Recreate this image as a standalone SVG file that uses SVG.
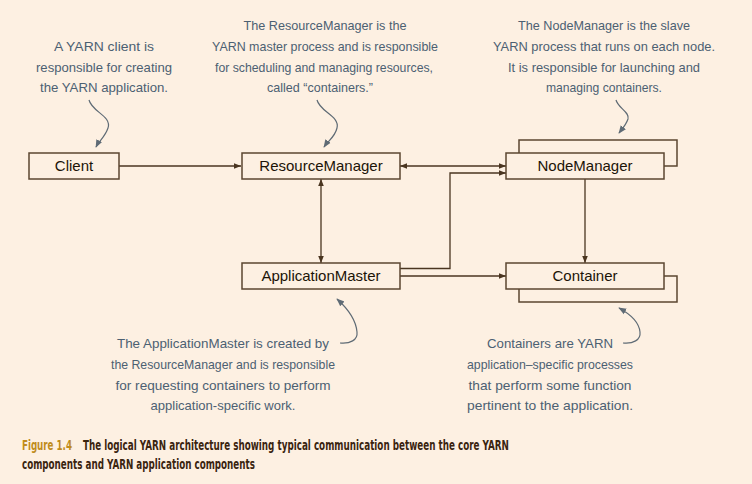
<svg xmlns="http://www.w3.org/2000/svg" width="752" height="484" viewBox="0 0 752 484">
<style>
.box{fill:#fdf0e2;stroke:#5b4631;stroke-width:1.5}
.back{fill:none;stroke:#5b4631;stroke-width:1.5}
.lbl{font-family:"Liberation Sans",Arial,sans-serif;font-size:15px;fill:#1c1408;text-anchor:middle}
.con{fill:none;stroke:#4a3520;stroke-width:1.3}
.note{font-family:"Liberation Sans",Arial,sans-serif;font-size:13px;fill:#4c6072;text-anchor:middle}
.ptr{fill:none;stroke:#5f6b75;stroke-width:1.2}
.cap{font-family:"DejaVu Sans Condensed","Liberation Sans",sans-serif;font-weight:bold;font-size:14px;fill:#3a2410}
</style>
<defs>
<marker id="ah" viewBox="0 0 10 10" refX="10" refY="5" markerWidth="7" markerHeight="7" markerUnits="userSpaceOnUse" orient="auto-start-reverse">
<path d="M0,1 L10,5 L0,9 z" fill="#4a3520"/>
</marker>
<marker id="ph" viewBox="0 0 10 10" refX="9" refY="5" markerWidth="8" markerHeight="8" markerUnits="userSpaceOnUse" orient="auto">
<path d="M0,1 L10,5 L0,9 z" fill="#5f6b75"/>
</marker>
</defs>
<rect width="752" height="484" fill="#fdf0e2"/>

<g id="connectors">
<line class="con" x1="119" y1="166" x2="241" y2="166" marker-end="url(#ah)"/>
<line class="con" x1="400" y1="166" x2="506" y2="166" marker-start="url(#ah)" marker-end="url(#ah)"/>
<polyline class="con" points="400,268.5 450,268.5 450,173 506,173" marker-end="url(#ah)"/>
<line class="con" x1="400" y1="276" x2="506" y2="276" marker-end="url(#ah)"/>
<line class="con" x1="321" y1="179" x2="321" y2="263" marker-start="url(#ah)" marker-end="url(#ah)"/>
<line class="con" x1="585" y1="179" x2="585" y2="263" marker-end="url(#ah)"/>
</g>

<g id="client">
<rect class="box" x="29" y="153" width="90" height="26"/>
<text class="lbl" x="74" y="171">Client</text>
</g>
<g id="resourcemanager">
<rect class="box" x="242" y="153" width="158" height="26"/>
<text class="lbl" x="321" y="171">ResourceManager</text>
</g>
<g id="applicationmaster">
<rect class="box" x="242" y="263" width="158" height="26"/>
<text class="lbl" x="321" y="281">ApplicationMaster</text>
</g>
<g id="nodemanager">
<polyline class="back" points="519,153 519,140 677,140 677,166 664,166"/>
<rect class="box" x="506" y="153" width="158" height="26"/>
<text class="lbl" x="585" y="171">NodeManager</text>
</g>
<g id="container">
<polyline class="back" points="664,276 677,276 677,302 519,302 519,289"/>
<rect class="box" x="506" y="263" width="158" height="26"/>
<text class="lbl" x="585" y="281">Container</text>
</g>

<g id="note-client">
<text class="note" x="104" y="51" textLength="100" lengthAdjust="spacingAndGlyphs">A YARN client is</text>
<text class="note" x="104" y="71.5" textLength="136" lengthAdjust="spacingAndGlyphs">responsible for creating</text>
<text class="note" x="104" y="92" textLength="128" lengthAdjust="spacingAndGlyphs">the YARN application.</text>
<path class="ptr" d="M89,100 C92,112 112,116 108,128 C105,137 99,141 96,147" marker-end="url(#ph)"/>
</g>
<g id="note-rm">
<text class="note" x="325" y="30" textLength="163" lengthAdjust="spacingAndGlyphs">The ResourceManager is the</text>
<text class="note" x="325" y="51" textLength="226" lengthAdjust="spacingAndGlyphs">YARN master process and is responsible</text>
<text class="note" x="324" y="71.5" textLength="218" lengthAdjust="spacingAndGlyphs">for scheduling and managing resources,</text>
<text class="note" x="320" y="92" textLength="106" lengthAdjust="spacingAndGlyphs">called “containers.”</text>
<path class="ptr" d="M317,100 C320,112 340,116 337,128 C335,137 328,141 324,147" marker-end="url(#ph)"/>
</g>
<g id="note-nm">
<text class="note" x="604" y="30" textLength="172" lengthAdjust="spacingAndGlyphs">The NodeManager is the slave</text>
<text class="note" x="604" y="51" textLength="222" lengthAdjust="spacingAndGlyphs">YARN process that runs on each node.</text>
<text class="note" x="604" y="71.5" textLength="192" lengthAdjust="spacingAndGlyphs">It is responsible for launching and</text>
<text class="note" x="604" y="92" textLength="116" lengthAdjust="spacingAndGlyphs">managing containers.</text>
<path class="ptr" d="M616,100 C618,108 630,112 628,119 C626,125 622,129 619,133" marker-end="url(#ph)"/>
</g>
<g id="note-am">
<text class="note" x="223" y="348" textLength="212" lengthAdjust="spacingAndGlyphs">The ApplicationMaster is created by</text>
<text class="note" x="223" y="369" textLength="224" lengthAdjust="spacingAndGlyphs">the ResourceManager and is responsible</text>
<text class="note" x="223" y="390" textLength="215" lengthAdjust="spacingAndGlyphs">for requesting containers to perform</text>
<text class="note" x="223" y="410" textLength="145" lengthAdjust="spacingAndGlyphs">application-specific work.</text>
<path class="ptr" d="M340,343 C350,344 358,340 357,332 C356,320 347,308 337,299" marker-end="url(#ph)"/>
</g>
<g id="note-container">
<text class="note" x="550" y="348" textLength="126" lengthAdjust="spacingAndGlyphs">Containers are YARN</text>
<text class="note" x="550" y="369" textLength="166" lengthAdjust="spacingAndGlyphs">application–specific processes</text>
<text class="note" x="550" y="390" textLength="163" lengthAdjust="spacingAndGlyphs">that perform some function</text>
<text class="note" x="550" y="410" textLength="166" lengthAdjust="spacingAndGlyphs">pertinent to the application.</text>
<path class="ptr" d="M623,343 C633,344 641,340 640,332 C639,322 630,314 619,308" marker-end="url(#ph)"/>
</g>

<g id="caption" transform="scale(0.76,1)">
<text class="cap" x="28.9" y="450" textLength="65.8" lengthAdjust="spacingAndGlyphs" style="fill:#c08c1c">Figure 1.4</text>
<text class="cap" x="109.2" y="450" textLength="560.5" lengthAdjust="spacingAndGlyphs">The logical YARN architecture showing typical communication between the core YARN</text>
<text class="cap" x="28.9" y="469" textLength="306.6" lengthAdjust="spacingAndGlyphs">components and YARN application components</text>
</g>
</svg>
